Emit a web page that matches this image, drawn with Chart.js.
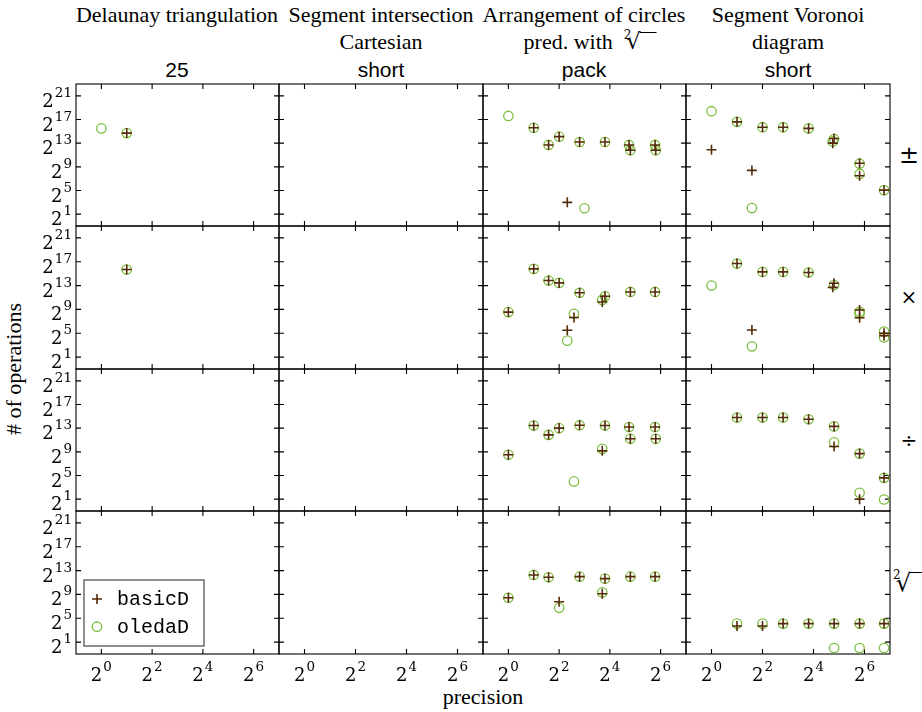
<!DOCTYPE html>
<html><head><meta charset="utf-8">
<script src="https://cdn.jsdelivr.net/npm/chart.js@4.4.1/dist/chart.umd.min.js"></script>
<style>
html,body{margin:0;padding:0;background:#fff;}
#wrap{position:relative;width:922px;height:712px;overflow:hidden;font-family:"Liberation Serif",serif;color:#000;}
#wrap canvas{position:absolute;left:0;top:0;}
.t{position:absolute;white-space:nowrap;transform:translate(-50%,-50%);line-height:1;font-size:22px;}
.s{font-family:"Liberation Sans",sans-serif;font-size:21px;}
.m{font-family:"DejaVu Serif",serif;}
.root{display:inline-block;position:relative;font-family:"DejaVu Serif",serif;}
.root sup{font-size:12px;position:relative;top:-2px;vertical-align:top;margin-right:-5px;}
.vinc{display:inline-block;width:13px;height:1px;border-top:1.3px solid #000;vertical-align:top;margin-top:1px;margin-left:-1px;}
</style></head><body>
<div id="wrap">
  <div class="t" style="left:177px;top:15px">Delaunay triangulation</div>
  <div class="t" style="left:381px;top:15px">Segment intersection</div>
  <div class="t" style="left:584px;top:15px">Arrangement of circles</div>
  <div class="t" style="left:788px;top:15px">Segment Voronoi</div>
  <div class="t" style="left:381px;top:42px">Cartesian</div>
  <div class="t" style="left:590px;top:42px">pred. with&nbsp; <span class="root" style="font-size:22px"><sup>2</sup>√<span class="vinc" style="width:17px"></span></span></div>
  <div class="t" style="left:788px;top:42px">diagram</div>
  <div class="t s" style="left:177px;top:69px">25</div>
  <div class="t s" style="left:381px;top:69px">short</div>
  <div class="t s" style="left:584px;top:69px">pack</div>
  <div class="t s" style="left:788px;top:69px">short</div>
  <div class="t m" style="left:909px;top:155px;font-size:24px">±</div>
  <div class="t m" style="left:909px;top:297px;font-size:20px">×</div>
  <div class="t m" style="left:909px;top:440px;font-size:20px">÷</div>
  <div class="t" style="left:908px;top:583px"><span class="root" style="font-size:24px"><sup>2</sup>√<span class="vinc"></span></span></div>
  <div class="t" style="left:14px;top:369px;transform:translate(-50%,-50%) rotate(-90deg)"># of operations</div>
  <div class="t" style="left:483px;top:697px">precision</div>
</div>
<script>
// ---- tick exponents (labels are 2^e) ----
const xTickExps = [0, 2, 4, 6];
const yTickExps = [1, 5, 9, 13, 17, 21];
const seriesNames = ['basicD', 'oledaD'];

// ---- Delaunay triangulation / 25 ----  x = precision, y = log2(# of operations)
const del_pm_basic_x = [2];            const del_pm_basic_y = [14.7];
const del_pm_oleda_x = [1, 2];         const del_pm_oleda_y = [15.5, 14.7];
const del_mul_basic_x = [2];           const del_mul_basic_y = [15.7];
const del_mul_oleda_x = [2];           const del_mul_oleda_y = [15.7];

// ---- Arrangement of circles / pack ----
const arr_pm_basic_x = [2, 3, 4, 5, 7, 14, 27, 28, 55, 56];
const arr_pm_basic_y = [15.6, 12.7, 14.1, 3.0, 13.2, 13.2, 12.7, 11.8, 12.7, 11.8];
const arr_pm_oleda_x = [1, 2, 3, 4, 7, 8, 14, 27, 28, 55, 56];
const arr_pm_oleda_y = [17.6, 15.6, 12.7, 14.1, 13.2, 2.0, 13.2, 12.7, 11.8, 12.7, 11.8];

const arr_mul_basic_x = [1, 2, 3, 4, 5, 6, 7, 13, 14, 28, 55];
const arr_mul_basic_y = [8.55, 15.8, 13.85, 13.45, 5.5, 7.65, 11.8, 10.24, 11.2, 11.93, 11.93];
const arr_mul_oleda_x = [1, 2, 3, 4, 5, 6, 7, 13, 14, 28, 55];
const arr_mul_oleda_y = [8.55, 15.8, 13.85, 13.45, 3.76, 8.27, 11.8, 10.6, 11.2, 11.93, 11.93];

const arr_div_basic_x = [1, 2, 3, 4, 7, 13, 14, 27, 28, 55, 56];
const arr_div_basic_y = [8.5, 13.45, 11.87, 13.0, 13.5, 9.17, 13.45, 13.2, 11.2, 13.2, 11.2];
const arr_div_oleda_x = [1, 2, 3, 4, 6, 7, 13, 14, 27, 28, 55, 56];
const arr_div_oleda_y = [8.5, 13.45, 11.87, 13.0, 4.0, 13.5, 9.5, 13.45, 13.2, 11.2, 13.2, 11.2];

const arr_sqrt_basic_x = [1, 2, 3, 4, 7, 13, 14, 28, 55];
const arr_sqrt_basic_y = [8.44, 12.27, 11.87, 7.76, 11.98, 9.1, 11.65, 11.98, 11.98];
const arr_sqrt_oleda_x = [1, 2, 3, 4, 7, 13, 14, 28, 55];
const arr_sqrt_oleda_y = [8.44, 12.27, 11.87, 6.75, 11.98, 9.34, 11.65, 11.98, 11.98];

// ---- Segment Voronoi diagram / short ----
const vor_pm_basic_x = [1, 2, 3, 4, 7, 14, 28, 27, 56, 56, 109];
const vor_pm_basic_y = [11.9, 16.6, 8.4, 15.7, 15.7, 15.5, 13.8, 13.0, 9.6, 7.5, 5.06];
const vor_pm_oleda_x = [1, 2, 3, 4, 7, 14, 28, 27, 56, 56, 109];
const vor_pm_oleda_y = [18.4, 16.6, 2.03, 15.7, 15.7, 15.5, 13.7, 13.3, 9.53, 7.8, 5.06];

const vor_mul_basic_x = [2, 3, 4, 7, 14, 28, 27, 56, 56, 109, 109];
const vor_mul_basic_y = [16.7, 5.55, 15.3, 15.3, 15.2, 13.4, 12.7, 8.9, 7.6, 5.0, 4.6];
const vor_mul_oleda_x = [1, 2, 3, 4, 7, 14, 28, 56, 56, 109, 109];
const vor_mul_oleda_y = [13.0, 16.7, 2.8, 15.3, 15.3, 15.2, 13.1, 8.6, 8.3, 5.27, 4.3];

const vor_div_basic_x = [2, 4, 7, 14, 28, 28, 56, 56, 109];
const vor_div_basic_y = [14.8, 14.8, 14.8, 14.5, 13.3, 9.9, 8.7, 1.0, 4.6];
const vor_div_oleda_x = [2, 4, 7, 14, 28, 28, 56, 56, 109, 109];
const vor_div_oleda_y = [14.8, 14.8, 14.8, 14.5, 13.3, 10.6, 8.7, 2.07, 4.6, 0.94];

const vor_sqrt_basic_x = [2, 4, 7, 14, 28, 56, 109];
const vor_sqrt_basic_y = [3.7, 3.7, 4.1, 4.1, 4.1, 4.1, 4.1];
const vor_sqrt_oleda_x = [2, 4, 7, 14, 28, 56, 109, 28, 56, 109];
const vor_sqrt_oleda_y = [4.1, 4.1, 4.1, 4.1, 4.1, 4.1, 4.1, 0, 0, 0];

const E = [];
// panel grid [row][col] -> [basicX, basicY, oledaX, oledaY]
const panels = [
  [[del_pm_basic_x, del_pm_basic_y, del_pm_oleda_x, del_pm_oleda_y], [E,E,E,E],
   [arr_pm_basic_x, arr_pm_basic_y, arr_pm_oleda_x, arr_pm_oleda_y],
   [vor_pm_basic_x, vor_pm_basic_y, vor_pm_oleda_x, vor_pm_oleda_y]],
  [[del_mul_basic_x, del_mul_basic_y, del_mul_oleda_x, del_mul_oleda_y], [E,E,E,E],
   [arr_mul_basic_x, arr_mul_basic_y, arr_mul_oleda_x, arr_mul_oleda_y],
   [vor_mul_basic_x, vor_mul_basic_y, vor_mul_oleda_x, vor_mul_oleda_y]],
  [[E,E,E,E], [E,E,E,E],
   [arr_div_basic_x, arr_div_basic_y, arr_div_oleda_x, arr_div_oleda_y],
   [vor_div_basic_x, vor_div_basic_y, vor_div_oleda_x, vor_div_oleda_y]],
  [[E,E,E,E], [E,E,E,E],
   [arr_sqrt_basic_x, arr_sqrt_basic_y, arr_sqrt_oleda_x, arr_sqrt_oleda_y],
   [vor_sqrt_basic_x, vor_sqrt_basic_y, vor_sqrt_oleda_x, vor_sqrt_oleda_y]]
];

// ---- layout ----
const W = 922, H = 712;
const colEdges = [76, 279, 483, 686, 890];
const rowEdges = [84, 226, 369, 511, 654];
const BROWN = '#542b08';
const GREEN = '#7dbd3f';
const TICK = 5;
const BASE_FONT = '18px "DejaVu Serif", serif';
const SUP_FONT = '13.5px "DejaVu Serif", serif';

function pts(xs, ys) { return xs.map((p, i) => ({ x: Math.log2(p), y: ys[i] })); }

function drawPow(ctx, xRight, xCenter, yBase, exp, mode) {
  const base = '2', sup = String(exp);
  ctx.font = BASE_FONT;
  const wb = ctx.measureText(base).width;
  ctx.font = SUP_FONT;
  const ws = ctx.measureText(sup).width;
  const gap = 1;
  let x0 = mode === 'right' ? xRight - wb - ws - gap : xCenter - (wb + ws + gap) / 2;
  ctx.textAlign = 'left'; ctx.textBaseline = 'alphabetic';
  ctx.font = BASE_FONT;
  ctx.fillText(base, x0, yBase);
  ctx.font = SUP_FONT;
  ctx.fillText(sup, x0 + wb + gap, yBase - 10);
}

const frameTicks = {
  id: 'frameTicks',
  beforeDatasetsDraw(chart, args, opts) {
    const { ctx, chartArea: a, scales: { x, y } } = chart;
    ctx.save();
    ctx.strokeStyle = '#000';
    ctx.lineWidth = 1.1;
    ctx.strokeRect(a.left, a.top, a.right - a.left, a.bottom - a.top);
    ctx.beginPath();
    xTickExps.forEach(e => {
      const px = x.getPixelForValue(e);
      ctx.moveTo(px, a.top); ctx.lineTo(px, a.top + TICK);
      ctx.moveTo(px, a.bottom); ctx.lineTo(px, a.bottom - TICK);
    });
    yTickExps.forEach(e => {
      const py = y.getPixelForValue(e);
      ctx.moveTo(a.left, py); ctx.lineTo(a.left + TICK, py);
      ctx.moveTo(a.right, py); ctx.lineTo(a.right - TICK, py);
    });
    ctx.stroke();
    ctx.fillStyle = '#000';
    if (opts.showY) {
      yTickExps.forEach(e => drawPow(ctx, a.left - 4, 0, y.getPixelForValue(e) + 11, e, 'right'));
    }
    if (opts.showX) {
      xTickExps.forEach(e => drawPow(ctx, 0, x.getPixelForValue(e), a.bottom + 26.5, e, 'center'));
    }
    ctx.restore();
  }
};

const panelLegend = {
  id: 'panelLegend',
  afterDraw(chart, args, opts) {
    if (!opts.show) return;
    const { ctx, chartArea: a } = chart;
    const bx = a.left + 8, bw = 120, bh = 66, by = a.bottom - 8 - bh;
    ctx.save();
    ctx.fillStyle = '#fff';
    ctx.fillRect(bx, by, bw, bh);
    ctx.strokeStyle = '#555';
    ctx.lineWidth = 1.3;
    ctx.strokeRect(bx, by, bw, bh);
    chart.data.datasets.forEach((ds, i) => {
      const cy = by + 19 + i * 27.7, cx = bx + 13;
      ctx.strokeStyle = ds.pointBorderColor;
      ctx.lineWidth = ds.pointBorderWidth;
      ctx.beginPath();
      if (ds.pointStyle === 'cross') {
        ctx.moveTo(cx - ds.pointRadius, cy); ctx.lineTo(cx + ds.pointRadius, cy);
        ctx.moveTo(cx, cy - ds.pointRadius); ctx.lineTo(cx, cy + ds.pointRadius);
      } else {
        ctx.arc(cx, cy, ds.pointRadius, 0, Math.PI * 2);
      }
      ctx.stroke();
      ctx.fillStyle = '#000';
      ctx.font = '20px "Liberation Mono", monospace';
      ctx.textAlign = 'left'; ctx.textBaseline = 'middle';
      ctx.fillText(ds.label, bx + 33, cy + 1);
    });
    ctx.restore();
  }
};

const wrap = document.getElementById('wrap');
for (let r = 0; r < 4; r++) {
  for (let c = 0; c < 4; c++) {
    const cv = document.createElement('canvas');
    cv.width = W; cv.height = H;
    cv.style.width = W + 'px'; cv.style.height = H + 'px';
    wrap.appendChild(cv);
    const [bx, by, ox, oy] = panels[r][c];
    new Chart(cv, {
      type: 'scatter',
      data: {
        datasets: [
          { label: seriesNames[0], data: pts(bx, by), pointStyle: 'cross', pointRadius: 5,
            pointBorderWidth: 1.6, pointBorderColor: BROWN, pointBackgroundColor: BROWN,
            borderColor: BROWN, backgroundColor: BROWN, showLine: false },
          { label: seriesNames[1], data: pts(ox, oy), pointStyle: 'circle', pointRadius: 4.7,
            pointBorderWidth: 1.3, pointBorderColor: GREEN, pointBackgroundColor: 'rgba(0,0,0,0)',
            borderColor: GREEN, backgroundColor: 'rgba(0,0,0,0)', showLine: false }
        ]
      },
      options: {
        responsive: false, animation: false, events: [],
        layout: { padding: { left: colEdges[c], right: W - colEdges[c + 1], top: rowEdges[r], bottom: H - rowEdges[r + 1] } },
        plugins: {
          legend: { display: false }, tooltip: { enabled: false },
          frameTicks: { showX: r === 3, showY: c === 0 },
          panelLegend: { show: r === 3 && c === 0 }
        },
        scales: {
          x: { type: 'linear', display: false, min: -1, max: 7, bounds: 'data' },
          y: { type: 'linear', display: false, min: -1, max: 23, bounds: 'data' }
        }
      },
      plugins: [frameTicks, panelLegend]
    });
  }
}
</script>
</body></html>
